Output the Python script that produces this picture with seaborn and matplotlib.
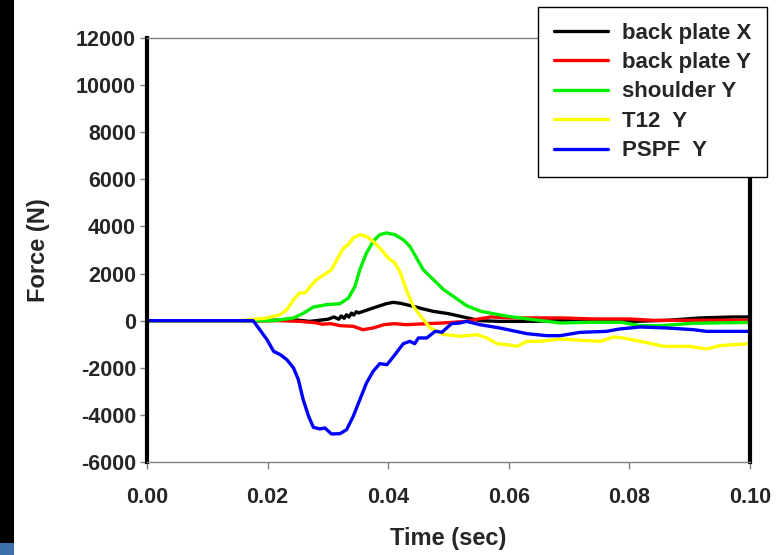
import matplotlib
matplotlib.use("Agg")
import matplotlib.pyplot as plt
import matplotlib.patches as mpatches
import seaborn as sns
import pandas as pd
from matplotlib.ticker import FormatStrFormatter

series_names = ["back plate X", "back plate Y", "shoulder Y", "T12  Y", "PSPF  Y"]
series_colors = ["#000000", "#ff0000", "#00ee00", "#ffff00", "#0000ff"]

t_backx = [0.0, 0.0190, 0.0242, 0.0270, 0.0287, 0.0300, 0.0310, 0.0318, 0.0322, 0.0327, 0.0331,
           0.0335, 0.0339, 0.0343, 0.0347, 0.0351, 0.0375, 0.0397, 0.0408, 0.0420, 0.0442, 0.0458,
           0.0475, 0.0500, 0.0552, 0.0585, 0.0640, 0.0730, 0.0807, 0.0862, 0.0917, 0.0972, 0.1000]
y_backx = [0, 0, 42, -30, 20, 60, 157, 60, 200, 100, 250, 150, 320, 240, 380, 330, 539, 722, 777,
           740, 607, 497, 395, 297, 0, -30, -30, 42, -30, 13, 115, 157, 157]

t_backy = [0.0, 0.0220, 0.0254, 0.0280, 0.0290, 0.0305, 0.0320, 0.0342, 0.0358, 0.0375, 0.0393,
           0.0410, 0.0430, 0.0465, 0.0490, 0.0530, 0.0550, 0.0570, 0.0600, 0.0650, 0.0690,
           0.0740, 0.0800, 0.0840, 0.0900, 0.0960, 0.1000]
y_backy = [0, 0, -30, -90, -150, -127, -212, -240, -382, -310, -170, -127, -170, -127, -98, -30,
           72, 157, 120, 115, 115, 72, 72, 13, 13, 20, 13]

t_shoulder = [0.0, 0.0210, 0.0243, 0.0260, 0.0276, 0.0298, 0.0320, 0.0334, 0.0345, 0.0353, 0.0364,
              0.0375, 0.0386, 0.0397, 0.0411, 0.0425, 0.0436, 0.0447, 0.0458, 0.0475, 0.0492,
              0.0508, 0.0530, 0.0553, 0.0597, 0.0641, 0.0685, 0.0730, 0.0775, 0.0787, 0.0818,
              0.0851, 0.0906, 0.1000]
y_shoulder = [0, 0, 115, 325, 580, 679, 722, 962, 1456, 2165, 2874, 3366, 3651, 3723, 3651, 3438,
              3154, 2662, 2165, 1740, 1316, 1032, 637, 400, 190, 42, -98, -72, -72, -72, -212,
              -212, -110, -72]

t_t12 = [0.0, 0.0154, 0.0199, 0.0221, 0.0232, 0.0243, 0.0253, 0.0262, 0.0270, 0.0281, 0.0298,
         0.0306, 0.0315, 0.0326, 0.0334, 0.0342, 0.0353, 0.0364, 0.0375, 0.0386, 0.0400, 0.0411,
         0.0420, 0.0431, 0.0442, 0.0456, 0.0470, 0.0491, 0.0519, 0.0530, 0.0547, 0.0564, 0.0580,
         0.0597, 0.0614, 0.0630, 0.0652, 0.0685, 0.0719, 0.0752, 0.0774, 0.0790, 0.0818, 0.0857,
         0.0901, 0.0928, 0.0950, 0.0972, 0.1000]
y_t12 = [0, 0, 115, 255, 467, 891, 1175, 1175, 1430, 1740, 2025, 2165, 2589, 3086, 3226, 3510, 3651,
         3579, 3366, 3086, 2662, 2448, 2050, 1244, 607, 115, -310, -580, -665, -637, -594, -736,
         -976, -1019, -1090, -877, -877, -778, -835, -877, -693, -736, -877, -1090, -1090, -1203,
         -1062, -1019, -976]

t_pspf = [0.0, 0.0176, 0.0187, 0.0199, 0.0210, 0.0221, 0.0232, 0.0243, 0.0251, 0.0259, 0.0268,
          0.0276, 0.0287, 0.0295, 0.0306, 0.0320, 0.0331, 0.0342, 0.0353, 0.0364, 0.0375, 0.0386,
          0.0398, 0.0409, 0.0425, 0.0436, 0.0444, 0.0450, 0.0464, 0.0478, 0.0489, 0.0505, 0.0519,
          0.0530, 0.0552, 0.0585, 0.0630, 0.0663, 0.0685, 0.0718, 0.0762, 0.0784, 0.0818, 0.0862,
          0.0906, 0.0928, 0.1000]
y_pspf = [0, 0, -382, -806, -1303, -1443, -1655, -2009, -2504, -3353, -4062, -4529, -4597, -4555,
          -4810, -4797, -4627, -4062, -3353, -2645, -2151, -1825, -1868, -1515, -976, -878, -976,
          -734, -734, -450, -492, -127, -98, -30, -170, -310, -552, -637, -637, -497, -454, -352,
          -268, -310, -382, -454, -454]

y_ticks = [-6000, -4000, -2000, 0, 2000, 4000, 6000, 8000, 10000, 12000]
x_ticks = [0.00, 0.02, 0.04, 0.06, 0.08, 0.10]

frames = []
for name, t, y in zip(series_names,
                      [t_backx, t_backy, t_shoulder, t_t12, t_pspf],
                      [y_backx, y_backy, y_shoulder, y_t12, y_pspf]):
    frames.append(pd.DataFrame({"Time": t, "Force": y, "Series": name}))
df = pd.concat(frames, ignore_index=True)

sns.set_theme(style="white")
plt.rcParams["font.family"] = ["Liberation Sans", "DejaVu Sans"]
plt.rcParams["font.weight"] = "bold"
plt.rcParams["axes.unicode_minus"] = False

fig = plt.figure(figsize=(7.77, 5.55), dpi=100)
ax = fig.add_axes([147 / 777, 1 - 462 / 555, (750 - 147) / 777, (462 - 38) / 555])

sns.lineplot(data=df, x="Time", y="Force", hue="Series", hue_order=series_names,
             palette=series_colors, sort=False, estimator=None, linewidth=2.4, ax=ax,
             legend=False)

ax.set_xlim(0, 0.10)
ax.set_ylim(-6000, 12000)
ax.set_xticks(x_ticks)
ax.set_yticks(y_ticks)
ax.xaxis.set_major_formatter(FormatStrFormatter("%.2f"))
ax.tick_params(axis="both", which="major", labelsize=15.5, direction="out", length=5,
               width=1, color="#808080", left=True, bottom=True)
ax.tick_params(axis="x", pad=13)
ax.tick_params(axis="y", pad=3)
for lab in ax.get_xticklabels() + ax.get_yticklabels():
    lab.set_fontweight("bold")
ax.set_xlabel("Time (sec)", fontsize=17, fontweight="bold", labelpad=14)
ax.set_ylabel("Force (N)", fontsize=17, fontweight="bold", labelpad=19)

ax.spines["left"].set_color("black")
ax.spines["left"].set_linewidth(3)
ax.spines["right"].set_color("black")
ax.spines["right"].set_linewidth(3)
ax.spines["top"].set_color("#808080")
ax.spines["top"].set_linewidth(1)
ax.spines["bottom"].set_color("#808080")
ax.spines["bottom"].set_linewidth(1)

handles = [plt.Line2D([], [], color=c, linewidth=2.4) for c in series_colors]
leg = fig.legend(handles, series_names, loc="upper left",
                 bbox_to_anchor=(538 / 777, 1 - 7 / 555), frameon=True, fancybox=False,
                 prop={"family": "Liberation Sans", "weight": "bold", "size": 16},
                 handlelength=2.45, handletextpad=0.62, labelspacing=0.38,
                 borderpad=0.7, borderaxespad=0)
leg.get_frame().set_edgecolor("black")
leg.get_frame().set_linewidth(1)
leg.get_frame().set_facecolor("white")
leg.get_frame().set_alpha(1)

fig.patches.append(mpatches.Rectangle((0, 0), 14 / 777, 1, transform=fig.transFigure,
                                      facecolor="black", edgecolor="none", zorder=-1))
fig.patches.append(mpatches.Rectangle((0, 0), 14 / 777, 12 / 555, transform=fig.transFigure,
                                      facecolor="#3d6fa8", edgecolor="none", zorder=0))

fig.savefig("out.png", dpi=100)
